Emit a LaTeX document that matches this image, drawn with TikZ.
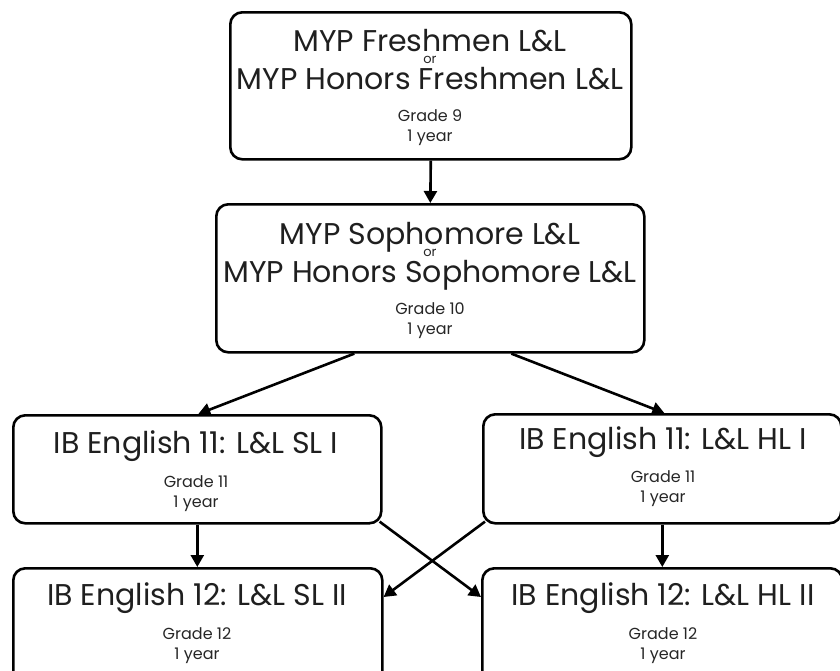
\documentclass[tikz,border=0pt]{standalone}
\usepackage{fontspec}
\setmainfont{Poppins}
\usetikzlibrary{arrows.meta}
\begin{document}
\begin{tikzpicture}[x=1pt,y=-1pt,
  box/.style={draw, line width=2.6pt, rounded corners=12pt, inner sep=0pt, anchor=north west},
  ttl/.style={font=\fontsize{30}{30}\selectfont, anchor=base, inner sep=0pt, text=black!88},
  sub/.style={font=\fontsize{16}{16}\selectfont, anchor=base, inner sep=0pt, text=black!85},
  orr/.style={font=\fontsize{13}{13}\selectfont, anchor=base, inner sep=0pt, text=black!85},
  conn/.style={line width=2.6pt, -{Triangle[length=12pt,width=13pt]}}]
\clip (0,0) rectangle (840,670);
% boxes
\node[box, minimum width=401pt, minimum height=147pt] (b1) at (229,11) {};
\node[box, minimum width=428pt, minimum height=148pt] (b2) at (215,203) {};
\node[box, minimum width=368pt, minimum height=108pt] (b3) at (12,414) {};
\node[box, minimum width=358pt, minimum height=109pt] (b4) at (482,413) {};
\node[box, minimum width=369pt, minimum height=130pt] (b5) at (12,567) {};
\node[box, minimum width=360pt, minimum height=130pt] (b6) at (481,567) {};
% texts box 1
\node[ttl] (t1a) at (430,51) {MYP Freshmen L\&L};
\node[orr] (t1o) at (430,63) {or};
\node[ttl] (t1b) at (430,89) {MYP Honors Freshmen L\&L};
\node[sub] (t1g) at (430,121) {Grade 9};
\node[sub] (t1y) at (430,141) {1 year};
% texts box 2
\node[ttl] (t2a) at (430,244) {MYP Sophomore L\&L};
\node[orr] (t2o) at (430,256) {or};
\node[ttl] (t2b) at (430,282) {MYP Honors Sophomore L\&L};
\node[sub] (t2g) at (430,314) {Grade 10};
\node[sub] (t2y) at (430,334) {1 year};
% texts box 3
\node[ttl] (t3a) at (196,453) {IB English 11: L\&L SL I};
\node[sub] (t3g) at (196,487) {Grade 11};
\node[sub] (t3y) at (196,507) {1 year};
% texts box 4
\node[ttl] (t4a) at (663,449) {IB English 11: L\&L HL I};
\node[sub] (t4g) at (663,482) {Grade 11};
\node[sub] (t4y) at (663,502) {1 year};
% texts box 5
\node[ttl] (t5a) at (197,605) {IB English 12: L\&L SL II};
\node[sub] (t5g) at (197,639) {Grade 12};
\node[sub] (t5y) at (197,659) {1 year};
% texts box 6
\node[ttl] (t6a) at (663,605) {IB English 12: L\&L HL II};
\node[sub] (t6g) at (663,639) {Grade 12};
\node[sub] (t6y) at (663,659) {1 year};
% connectors
\draw[conn] (b1.south) -- (b2.north);
\draw[conn] ([xshift=-76pt]b2.south) -- ([xshift=1pt]b3.north);
\draw[conn] ([xshift=81pt]b2.south) -- ([xshift=2pt]b4.north);
\draw[conn] (b3.south) -- (b3.south |- b5.north);
\draw[conn] (b4.south) -- (b4.south |- b6.north);
\draw[conn] ([shift={(-3,-3)}]b3.south east) -- ([shift={(0,30)}]b6.north west);
\draw[conn] ([shift={(3,-3)}]b4.south west) -- ([shift={(0,30)}]b5.north east);
\end{tikzpicture}
\end{document}
